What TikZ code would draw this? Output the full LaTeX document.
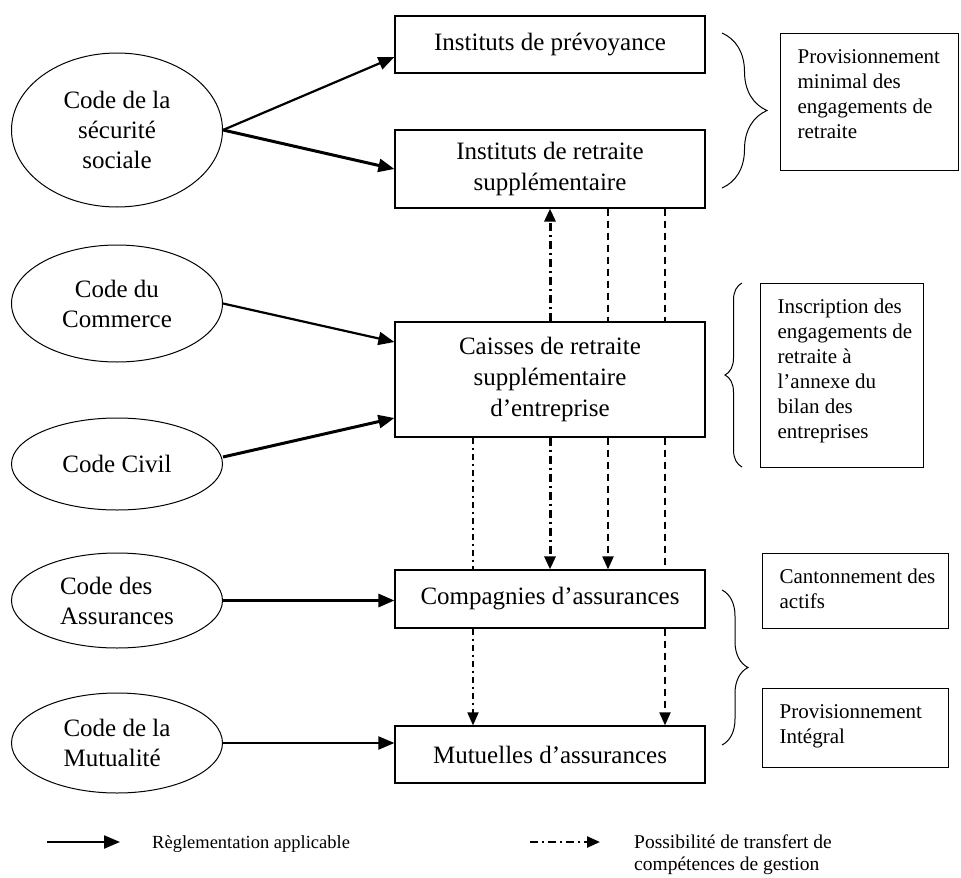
\documentclass[tikz,border=0pt]{standalone}
\usepackage{fontspec}
\setmainfont{Liberation Serif}
\usetikzlibrary{shapes.geometric,arrows.meta,decorations.pathreplacing}

\newcommand\sidetext[3]{\parbox[c][#1][t]{#2}{\vspace*{12pt}\raggedright\leftskip=17pt\strut#3}}

\tikzset{
  inst/.style={draw,line width=1.2pt,minimum width=310pt,inner sep=0pt,align=center,
    font=\fontsize{25}{31}\selectfont},
  code/.style={draw,ellipse,line width=1pt,minimum width=211pt,inner sep=0pt,align=center,
    font=\fontsize{25}{30}\selectfont},
  note/.style={draw,line width=1.2pt,anchor=north west,inner sep=0pt,
    font=\fontsize{21}{25}\selectfont},
  rule/.style={line width=2.2pt,-{Triangle[length=16pt,width=13pt]}},
  transfer/.style={line width=3pt,dash pattern=on 8pt off 4pt on 2pt off 4pt},
  thindash/.style={line width=2pt,dash pattern=on 7pt off 5pt},
  dotline/.style={line width=1.8pt,dash pattern=on 6pt off 4pt on 2pt off 4pt},
  tip/.style={-{Triangle[length=13pt,width=11pt]}},
  brace/.style={line width=1pt,decorate,decoration={brace,amplitude=#1}},
  legend/.style={inner sep=0pt,align=left}
}

\begin{document}
\begin{tikzpicture}[x=1pt,y=-1pt]
\useasboundingbox (0,0) rectangle (961,878);

% organismes
\node[inst,minimum height=57pt] (prev) at (550,44.5) {Instituts de prévoyance};
\node[inst,minimum height=78pt] (irs) at (550,169) {Instituts de retraite\\supplémentaire};
\node[inst,minimum height=115pt] (crse) at (550,379.5) {Caisses de retraite\\supplémentaire\\d’entreprise};
\node[inst,minimum height=58pt] (comp) at (550,599) {Compagnies d’assurances};
\node[inst,minimum height=57pt] (mut) at (550,754.5) {Mutuelles d’assurances};

% codes
\node[code,minimum height=154pt] (css) at (117,130) {Code de la\\sécurité\\sociale};
\node[code,minimum height=117pt] (ccom) at (117,303.5) {Code du\\Commerce};
\node[code,minimum height=92pt] (cciv) at (117,464) {Code Civil};
\node[code,minimum height=95pt,align=left] (cass) at (117,600.5) {Code des\\Assurances};
\node[code,minimum height=100pt,align=left] (cmut) at (117,743) {Code de la\\Mutualité};

% reglementation
\draw[rule] (css.east) -- ([yshift=-12.5pt]prev.west);
\draw[rule,line width=3pt] (css.east) -- (irs.west);
\draw[rule] (ccom.east) -- ([yshift=37.5pt]crse.west);
\draw[rule,line width=3pt] ([yshift=7pt]cciv.east) -- ([yshift=-38.5pt]crse.west);
\draw[rule,line width=3pt] (cass.east) -- (cass.east -| comp.west);
\draw[rule] (cmut.east) -- (cmut.east -| mut.west);

% transferts
\draw[transfer,tip] (crse.north) -- (irs.south);
\draw[transfer,tip] (crse.south) -- (comp.north);
\draw[thindash] ([xshift=58pt]irs.south) -- ([xshift=58pt]crse.north);
\draw[thindash,tip] ([xshift=58pt]crse.south) -- ([xshift=58pt]comp.north);
\draw[thindash] ([xshift=115pt]irs.south) -- ([xshift=115pt]crse.north);
\draw[thindash] ([xshift=115pt]crse.south) -- ([xshift=115pt]comp.north);
\draw[thindash,tip] ([xshift=115pt]comp.south) -- ([xshift=115pt]mut.north);
\draw[dotline] ([xshift=-77pt]crse.south) -- ([xshift=-77pt]comp.north);
\draw[dotline,tip] ([xshift=-77pt]comp.south) -- ([xshift=-77pt]mut.north);

% accolades
\draw[brace=45pt] (722,33) -- (722,188);
\draw[brace=17pt] (742,467) -- (742,283);
\draw[brace=26pt] (722,590) -- (722,745);

% regles
\node[note] (provmin) at (780,33) {\sidetext{137pt}{178pt}{Provisionnement\\minimal des\\engagements de\\retraite}};
\node[note] (inscr) at (760,283) {\sidetext{184pt}{163pt}{Inscription des\\engagements de\\retraite à\\l’annexe du\\bilan des\\entreprises}};
\node[note] (canton) at (762,553) {\sidetext{75pt}{186pt}{Cantonnement des\\actifs}};
\node[note] (provint) at (762,688) {\sidetext{79pt}{186pt}{Provisionnement\\Intégral}};

% legende
\coordinate (rulea) at (47,842);
\coordinate (ruleb) at (120,842);
\draw[rule] (rulea) -- (ruleb);
\node[legend,anchor=base west,font=\fontsize{18.5}{22}\selectfont] (ruletext) at (152,848) {Règlementation applicable};
\coordinate (transa) at (530,842);
\coordinate (transb) at (600,842);
\draw[transfer,line width=2.4pt,tip] (transa) -- (transb);
\node[legend,anchor=base west,font=\fontsize{19.5}{22}\selectfont] (transtext) at (634,870) {Possibilité de transfert de\\compétences de gestion};
\end{tikzpicture}
\end{document}
